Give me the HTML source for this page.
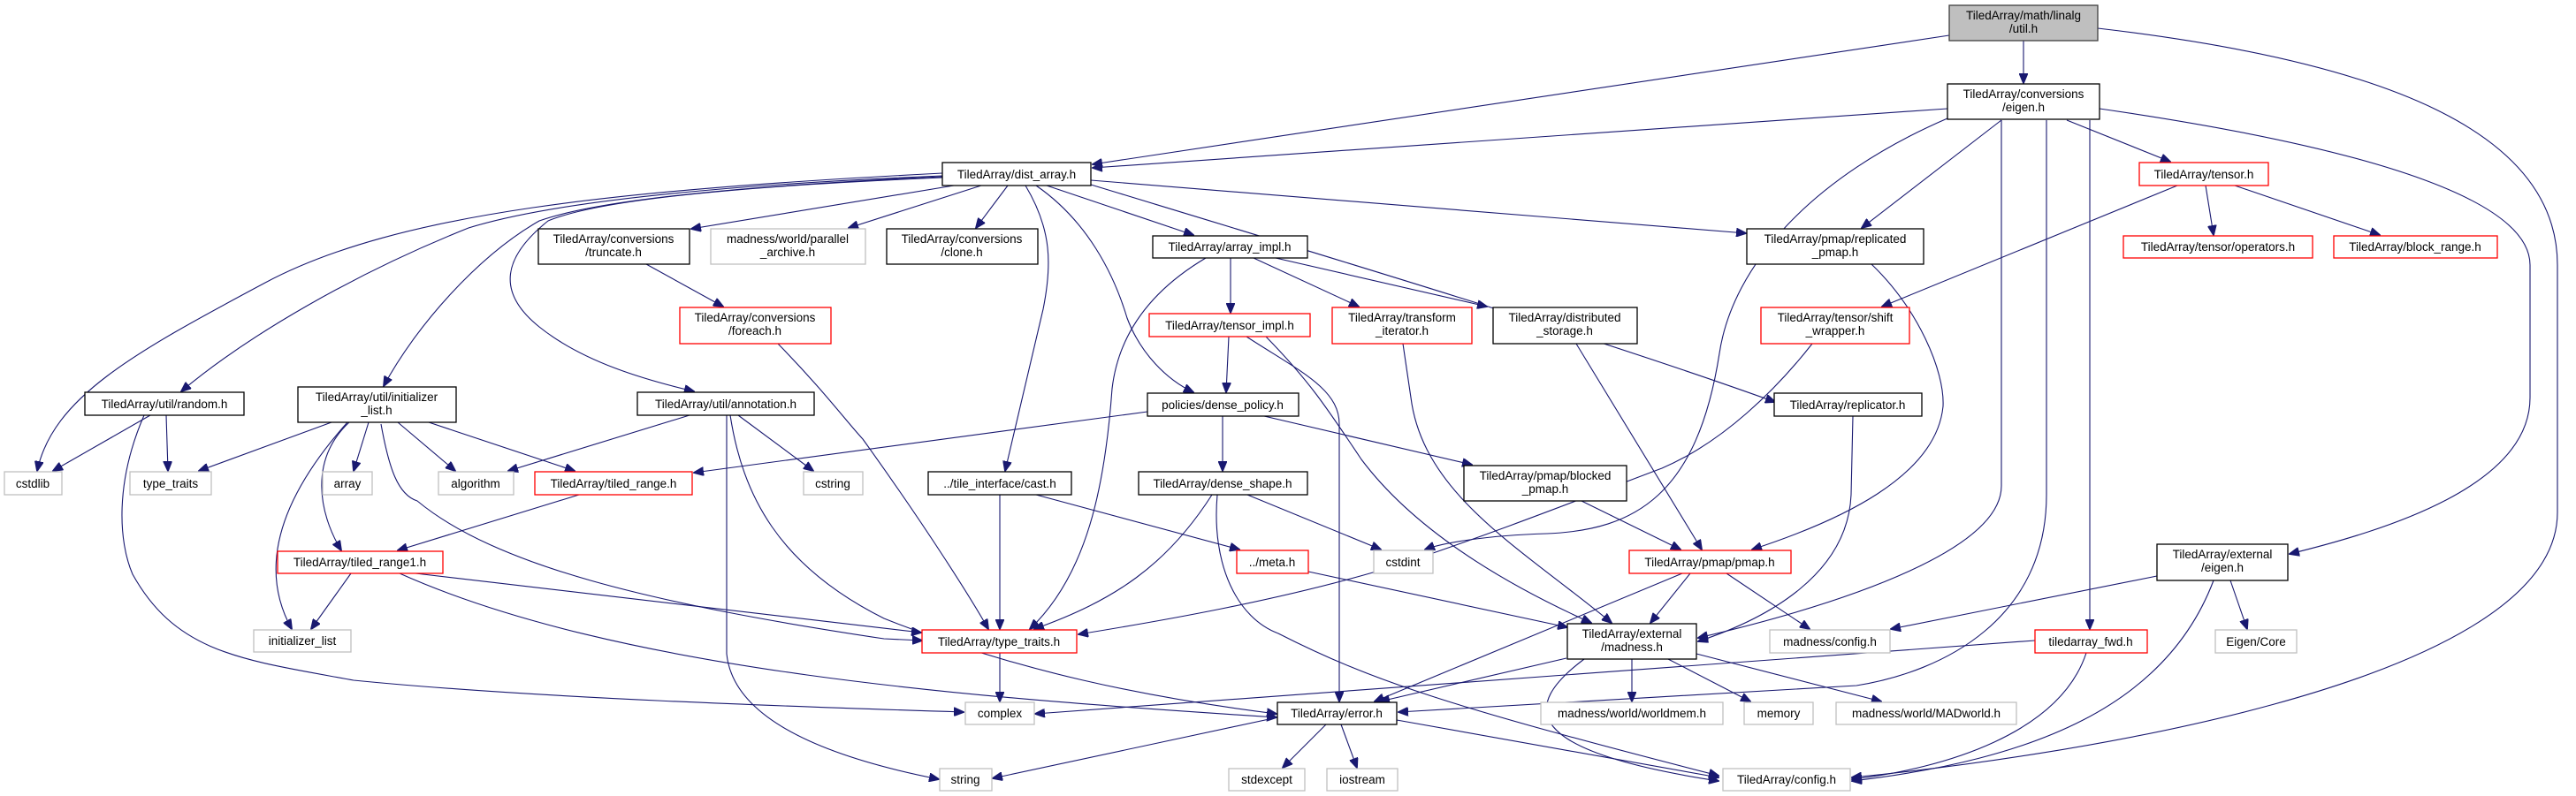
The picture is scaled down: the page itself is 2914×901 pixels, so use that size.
<!DOCTYPE html>
<html><head><meta charset="utf-8"><style>
html,body{margin:0;padding:0;background:#fff;}
svg{display:block;}
text{font-family:"Liberation Sans",sans-serif;font-size:13.5px;fill:#000;text-anchor:middle;}
.b{fill:#fff;stroke:#000;stroke-width:1.3;}
.r{fill:#fff;stroke:#ff0000;stroke-width:1.3;}
.g{fill:#fff;stroke:#bfbfbf;stroke-width:1.3;}
.e path{fill:none;stroke:#191970;stroke-width:1.1;marker-end:url(#a);}
</style></head><body>
<svg width="2914" height="901" viewBox="0 0 2914 901" xmlns="http://www.w3.org/2000/svg">
<defs><marker id="a" markerWidth="12" markerHeight="10" refX="11" refY="5" orient="auto" markerUnits="userSpaceOnUse"><path d="M0,0 L12,5 L0,10 Z" fill="#191970" stroke="#191970"/></marker></defs>
<g class="e">
<path d="M2205,40 L1236,186"/>
<path d="M2289,46 L2289,94"/>
<path d="M2373,32 C2700,70 2893,150 2893,300 L2893,580 C2893,780 2300,860 2095,880"/>
<path d="M2203,123 L1236,190"/>
<path d="M2203,134 C2050,200 1960,300 1945,400 C1920,560 1850,600 1750,604 C1680,606 1630,615 1612,622"/>
<path d="M2264,136 L2106,258"/>
<path d="M2264,136 L2264,550 C2264,620 2100,680 1921,722"/>
<path d="M2315,136 L2315,560 C2315,700 2200,760 2100,776 L1582,806"/>
<path d="M2364,136 L2364,712"/>
<path d="M2338,136 L2455,183"/>
<path d="M2375,123 C2700,170 2862,230 2862,300 L2862,450 C2862,550 2700,600 2590,627"/>
<path d="M2463,210 L2129,347"/>
<path d="M2495,210 L2504,266"/>
<path d="M2528,210 L2692,266"/>
<path d="M2117,299 C2170,350 2200,420 2198,460 C2190,540 2080,590 1982,622"/>
<path d="M2050,389 C2010,440 1950,500 1880,530 C1800,560 1700,600 1580,640 C1450,680 1300,705 1220,718"/>
<path d="M2096,471 L2094,560 C2090,650 2000,700 1921,726"/>
<path d="M1066,196 C700,215 450,240 300,320 C150,400 60,450 42,533"/>
<path d="M1066,199 C800,210 620,230 530,258 C400,310 280,380 205,443"/>
<path d="M1066,200 C850,210 680,225 610,250 C540,290 470,370 434,437"/>
<path d="M1066,201 C850,210 680,225 620,250 C570,290 560,330 610,370 C660,410 730,430 785,443"/>
<path d="M1079,210 L782,259"/>
<path d="M1110,210 L960,258"/>
<path d="M1140,210 L1104,258"/>
<path d="M1184,210 L1350,266"/>
<path d="M1234,204 L1975,264"/>
<path d="M1234,209 C1500,290 1800,380 2008,455"/>
<path d="M1172,210 C1230,250 1260,310 1275,360 C1290,400 1320,430 1350,444"/>
<path d="M1160,210 C1190,260 1190,300 1180,350 L1137,533"/>
<path d="M1364,292 C1300,330 1265,380 1258,440 C1250,550 1230,650 1165,712"/>
<path d="M1298,466 L785,535"/>
<path d="M1383,471 L1383,533"/>
<path d="M1430,471 L1665,526"/>
<path d="M1371,560 C1320,640 1260,680 1170,712"/>
<path d="M1411,560 L1562,622"/>
<path d="M1377,560 C1370,640 1400,700 1446,717 C1550,770 1640,800 1944,878"/>
<path d="M1131,560 L1131,712"/>
<path d="M1172,560 L1402,622"/>
<path d="M1480,647 L1773,710"/>
<path d="M1789,567 L1901,622"/>
<path d="M1912,649 L1867,705"/>
<path d="M1903,649 L1555,794"/>
<path d="M1953,649 L2047,712"/>
<path d="M1390,381 L1387,444"/>
<path d="M1432,381 C1480,430 1500,460 1540,520 C1600,600 1700,660 1800,705"/>
<path d="M1410,381 C1470,420 1515,440 1515,480 L1515,794"/>
<path d="M1587,389 L1596,450 C1610,560 1720,620 1823,705"/>
<path d="M1392,292 L1392,354"/>
<path d="M1418,292 L1537,347"/>
<path d="M1443,292 L1682,347"/>
<path d="M1783,389 L1925,622"/>
<path d="M731,299 L818,347"/>
<path d="M880,389 C930,440 960,480 976,497 C1050,600 1100,680 1118,712"/>
<path d="M1772,745 L1561,794"/>
<path d="M1846,746 L1846,794"/>
<path d="M1887,746 L1980,794"/>
<path d="M1919,740 L2128,794"/>
<path d="M1792,746 C1720,800 1720,850 1944,884"/>
<path d="M1445,812 L1123,881"/>
<path d="M1500,820 L1451,869"/>
<path d="M1517,820 L1535,869"/>
<path d="M1580,815 L1944,880"/>
<path d="M2302,725 L1171,808"/>
<path d="M2360,739 C2330,830 2200,870 2095,882"/>
<path d="M2440,652 L2139,712"/>
<path d="M2523,657 L2542,712"/>
<path d="M2504,657 C2450,800 2300,860 2095,884"/>
<path d="M1131,739 L1131,794"/>
<path d="M170,470 L60,533"/>
<path d="M188,470 L190,533"/>
<path d="M163,470 C130,546 134,613 150,650 C200,740 275,747 400,770 C600,790 900,800 1090,806"/>
<path d="M375,478 L225,533"/>
<path d="M417,478 L400,533"/>
<path d="M450,478 L515,533"/>
<path d="M485,478 L650,533"/>
<path d="M395,478 C350,520 360,580 386,623"/>
<path d="M393,478 C320,560 290,640 330,712"/>
<path d="M431,480 C440,530 450,560 472,567 C560,640 734,683 1000,723 L1043,725"/>
<path d="M780,470 L575,533"/>
<path d="M835,470 L920,533"/>
<path d="M822,470 L822,740 C830,820 950,860 1062,882"/>
<path d="M826,470 C840,560 880,640 1000,700 C1150,760 1300,790 1444,808"/>
<path d="M655,560 L450,623"/>
<path d="M397,649 L352,712"/>
<path d="M470,649 L1042,716"/>
<path d="M452,649 C700,760 1100,790 1444,812"/>
</g>
<g>
<rect x="2205" y="6" width="168" height="40" fill="#bfbfbf" stroke="#404040" stroke-width="1.3"/><text x="2289" y="22">TiledArray/math/linalg</text><text x="2289" y="37">/util.h</text>
<rect class="b" x="2203" y="95" width="172" height="40"/><text x="2289" y="111">TiledArray/conversions</text><text x="2289" y="126">/eigen.h</text>
<rect class="b" x="1066" y="184" width="168" height="26"/><text x="1150" y="202">TiledArray/dist_array.h</text>
<rect class="r" x="2420" y="184" width="146" height="26"/><text x="2493" y="202">TiledArray/tensor.h</text>
<rect class="b" x="1976" y="259" width="200" height="40"/><text x="2076" y="275">TiledArray/pmap/replicated</text><text x="2076" y="290">_pmap.h</text>
<rect class="r" x="2402" y="267" width="214" height="25"/><text x="2509" y="284">TiledArray/tensor/operators.h</text>
<rect class="r" x="2640" y="267" width="185" height="25"/><text x="2732" y="284">TiledArray/block_range.h</text>
<rect class="r" x="1992" y="348" width="168" height="41"/><text x="2076" y="364">TiledArray/tensor/shift</text><text x="2076" y="379">_wrapper.h</text>
<rect class="b" x="2007" y="445" width="167" height="26"/><text x="2090" y="463">TiledArray/replicator.h</text>
<rect class="r" x="1843" y="623" width="183" height="26"/><text x="1934" y="641">TiledArray/pmap/pmap.h</text>
<rect class="b" x="2440" y="616" width="148" height="41"/><text x="2514" y="632">TiledArray/external</text><text x="2514" y="647">/eigen.h</text>
<rect class="g" x="2002" y="713" width="136" height="26"/><text x="2070" y="731">madness/config.h</text>
<rect class="r" x="2302" y="713" width="127" height="26"/><text x="2365" y="731">tiledarray_fwd.h</text>
<rect class="g" x="2506" y="713" width="92" height="26"/><text x="2552" y="731">Eigen/Core</text>
<rect class="g" x="1973" y="795" width="78" height="25"/><text x="2012" y="812">memory</text>
<rect class="g" x="2077" y="795" width="204" height="25"/><text x="2179" y="812">madness/world/MADworld.h</text>
<rect class="g" x="1949" y="870" width="144" height="25"/><text x="2021" y="887">TiledArray/config.h</text>
<rect class="b" x="1003" y="259" width="171" height="40"/><text x="1088" y="275">TiledArray/conversions</text><text x="1088" y="290">/clone.h</text>
<rect class="b" x="1304" y="267" width="175" height="25"/><text x="1391" y="284">TiledArray/array_impl.h</text>
<rect class="r" x="1300" y="355" width="182" height="26"/><text x="1391" y="373">TiledArray/tensor_impl.h</text>
<rect class="r" x="1507" y="348" width="158" height="41"/><text x="1586" y="364">TiledArray/transform</text><text x="1586" y="379">_iterator.h</text>
<rect class="b" x="1689" y="348" width="163" height="41"/><text x="1770" y="364">TiledArray/distributed</text><text x="1770" y="379">_storage.h</text>
<rect class="b" x="1298" y="445" width="171" height="26"/><text x="1383" y="463">policies/dense_policy.h</text>
<rect class="b" x="1050" y="534" width="162" height="26"/><text x="1131" y="552">../tile_interface/cast.h</text>
<rect class="b" x="1288" y="534" width="191" height="26"/><text x="1383" y="552">TiledArray/dense_shape.h</text>
<rect class="b" x="1656" y="527" width="184" height="40"/><text x="1748" y="543">TiledArray/pmap/blocked</text><text x="1748" y="558">_pmap.h</text>
<rect class="r" x="1399" y="623" width="81" height="26"/><text x="1439" y="641">../meta.h</text>
<rect class="g" x="1554" y="623" width="67" height="26"/><text x="1587" y="641">cstdint</text>
<rect class="r" x="1043" y="713" width="175" height="26"/><text x="1130" y="731">TiledArray/type_traits.h</text>
<rect class="b" x="1773" y="706" width="146" height="40"/><text x="1846" y="722">TiledArray/external</text><text x="1846" y="737">/madness.h</text>
<rect class="g" x="1092" y="795" width="78" height="25"/><text x="1131" y="812">complex</text>
<rect class="b" x="1445" y="795" width="135" height="25"/><text x="1512" y="812">TiledArray/error.h</text>
<rect class="g" x="1743" y="795" width="206" height="25"/><text x="1846" y="812">madness/world/worldmem.h</text>
<rect class="g" x="1063" y="870" width="59" height="25"/><text x="1092" y="887">string</text>
<rect class="g" x="1390" y="870" width="86" height="25"/><text x="1433" y="887">stdexcept</text>
<rect class="g" x="1501" y="870" width="80" height="25"/><text x="1541" y="887">iostream</text>
<rect class="b" x="609" y="259" width="171" height="40"/><text x="694" y="275">TiledArray/conversions</text><text x="694" y="290">/truncate.h</text>
<rect class="g" x="804" y="259" width="175" height="40"/><text x="891" y="275">madness/world/parallel</text><text x="891" y="290">_archive.h</text>
<rect class="r" x="769" y="348" width="171" height="41"/><text x="854" y="364">TiledArray/conversions</text><text x="854" y="379">/foreach.h</text>
<rect class="b" x="96" y="444" width="180" height="26"/><text x="186" y="462">TiledArray/util/random.h</text>
<rect class="b" x="337" y="438" width="179" height="40"/><text x="426" y="454">TiledArray/util/initializer</text><text x="426" y="469">_list.h</text>
<rect class="b" x="721" y="444" width="200" height="26"/><text x="821" y="462">TiledArray/util/annotation.h</text>
<rect class="g" x="5" y="534" width="65" height="26"/><text x="37" y="552">cstdlib</text>
<rect class="g" x="147" y="534" width="92" height="26"/><text x="193" y="552">type_traits</text>
<rect class="g" x="365" y="534" width="56" height="26"/><text x="393" y="552">array</text>
<rect class="g" x="496" y="534" width="85" height="26"/><text x="538" y="552">algorithm</text>
<rect class="r" x="605" y="534" width="178" height="26"/><text x="694" y="552">TiledArray/tiled_range.h</text>
<rect class="g" x="909" y="534" width="67" height="26"/><text x="942" y="552">cstring</text>
<rect class="r" x="314" y="624" width="187" height="25"/><text x="407" y="641">TiledArray/tiled_range1.h</text>
<rect class="g" x="287" y="713" width="110" height="25"/><text x="342" y="730">initializer_list</text>
</g>
</svg>
</body></html>
